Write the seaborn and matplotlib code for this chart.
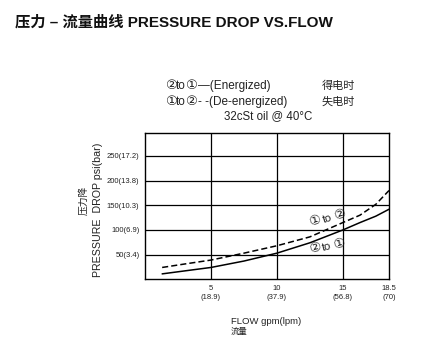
import matplotlib
matplotlib.use("Agg")
import matplotlib.pyplot as plt
import seaborn as sns
import pandas as pd

# Flow (gpm) and pressure drop (psi) for the two flow directions
flow_gpm = [1.3, 3, 5, 7.5, 10, 12.5, 15, 16.3, 17.5, 18.5]
energized_psi = [11, 17, 24, 37, 53, 74, 100, 115, 128, 142]       # 2 -> 1
deenergized_psi = [24, 31, 39, 53, 68, 86, 115, 130, 152, 180]     # 1 -> 2

x_ticks = [5, 10, 15, 18.5]
x_tick_labels = ["5\n(18.9)", "10\n(37.9)", "15\n(56.8)", "18.5\n(70)"]
y_ticks = [50, 100, 150, 200, 250]
y_tick_labels = ["50(3.4)", "100(6.9)", "150(10.3)", "200(13.8)", "250(17.2)"]

sns.set_theme(style="white")
plt.rcParams["font.family"] = ["Liberation Sans", "DejaVu Sans", "Noto Sans CJK SC"]
CJK = ["Noto Sans CJK SC", "DejaVu Sans"]
INK = "#222222"

W, H = 422, 348
fig = plt.figure(figsize=(W / 100, H / 100), dpi=100)
fig.patch.set_facecolor("white")


def fx(px):
    return px / W


def fy(py):
    return 1 - py / H


ax = fig.add_axes([fx(145), fy(279.3), fx(389) - fx(145), (279.3 - 133.3) / H])

df = pd.DataFrame({"flow": flow_gpm, "e": energized_psi, "d": deenergized_psi})
sns.lineplot(data=df, x="flow", y="e", ax=ax, color="black", lw=1.1)
sns.lineplot(data=df, x="flow", y="d", ax=ax, color="black", lw=1.1,
             linestyle=(0, (4, 2)))

ax.set_xlim(0, 18.5)
ax.set_ylim(0, 296)

# grid lines
for v in [5, 10, 15]:
    ax.axvline(v, color="black", lw=0.9, zorder=0)
for v in y_ticks:
    ax.axhline(v, color="black", lw=0.9, zorder=0)

ax.set_xticks(x_ticks)
ax.set_xticklabels(x_tick_labels, fontsize=5.5, linespacing=1.5)
ax.set_yticks(y_ticks)
ax.set_yticklabels(y_tick_labels, fontsize=5.5)
ax.tick_params(axis="both", length=0, pad=4, colors=INK)
ax.set_xlabel("")
ax.set_ylabel("")
for s in ax.spines.values():
    s.set_color("black")
    s.set_linewidth(1.0)

# curve labels, drawn piece by piece so the circled port numbers stay large
DIGIT = 9.5
TXT = 8
for x, y, s, size, rot in [
    (12.90, 117.5, "①", DIGIT, 17), (13.80, 122.3, "to", TXT, 17),
    (14.75, 130.8, "②", DIGIT, 17),
    (12.90, 62.5, "②", DIGIT, 14), (13.80, 66.1, "to", TXT, 14),
    (14.70, 71.3, "①", DIGIT, 14),
]:
    ax.text(x, y, s, fontsize=size, rotation=rot, ha="center", va="center",
            color=INK, family=["DejaVu Sans"] if s != "to" else None)

# title
fig.text(fx(15), fy(22), "压力 – 流量曲线 PRESSURE DROP VS.FLOW", fontsize=11,
         fontweight="bold", ha="left", va="center", color="#111111",
         family=["Liberation Sans", "Noto Sans CJK SC"])

# legend rows
for px, py, s, size, ha in [
    (171, 86, "②", DIGIT, "center"), (180.8, 86, "to", 8.5, "center"),
    (190.8, 86, "①", DIGIT, "center"), (197.5, 86, "—(Energized)", 8.5, "left"),
    (171, 102, "①", DIGIT, "center"), (180.8, 102, "to", 8.5, "center"),
    (191.2, 102, "②", DIGIT, "center"),
    (198, 102, "- -(De-energized)", 8.5, "left"),
]:
    fig.text(fx(px), fy(py), s, fontsize=size, ha=ha, va="center", color=INK)

fig.text(fx(322), fy(86), "得电时", fontsize=8, ha="left", va="center",
         color=INK, family=CJK)
fig.text(fx(322), fy(102), "失电时", fontsize=8, ha="left", va="center",
         color=INK, family=CJK)
fig.text(fx(268), fy(116), "32cSt oil @ 40°C", fontsize=8.3, ha="center",
         va="center", color=INK)

# axis titles
fig.text(fx(98), fy(210), "PRESSURE  DROP psi(bar)", fontsize=7.7, rotation=90,
         ha="center", va="center", color=INK)
fig.text(fx(83), fy(200), "压力降", fontsize=7, rotation=90, ha="center",
         va="center", color=INK, family=CJK)
fig.text(fx(266), fy(321), "FLOW gpm(lpm)", fontsize=6.8, ha="center",
         va="center", color=INK)
fig.text(fx(239), fy(331), "流量", fontsize=6, ha="center", va="center",
         color=INK, family=CJK)

fig.savefig("out.png", dpi=100, facecolor="white")
